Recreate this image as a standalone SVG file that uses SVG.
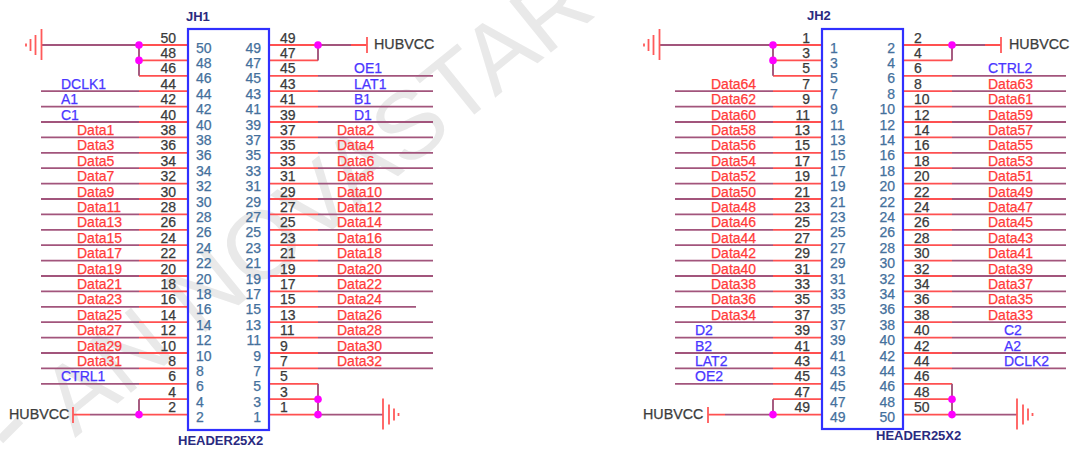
<svg xmlns="http://www.w3.org/2000/svg" width="1070" height="449" viewBox="0 0 1070 449">
<style>
text{font-family:"Liberation Sans",Arial,sans-serif;font-size:14px;stroke-width:.25}
.wm{font-size:96px;fill:#e9e9e9;stroke:none}
.box{fill:none;stroke:#3030ff;stroke-width:2.2}
.in{fill:#44709c;stroke:#44709c}
.out{fill:#3a3a3a;stroke:#3a3a3a}
.end{text-anchor:end}
.d{fill:#ff3b3b;stroke:#ff3b3b}
.b{fill:#4a36ff;stroke:#4a36ff}
.t{fill:#2a2a80;font-weight:bold;font-size:13px}
.v{fill:#3c3c3c;stroke:#3c3c3c;font-size:14.3px}
.w{fill:none;stroke-width:1.8}
.r{fill:none;stroke:#ff5050;stroke-width:1.8}
.p{fill:none;stroke:#a2557c;stroke-width:1.9}
.g{fill:none;stroke:#ff5a5a;stroke-width:1.8}
.j{fill:#ff00ff}
</style>
<defs>
<linearGradient id="a1" gradientUnits="userSpaceOnUse" x1="41" y1="0" x2="188" y2="0"><stop offset=".667" stop-color="#a2557c"/><stop offset=".667" stop-color="#ff5050"/></linearGradient>
<linearGradient id="a2" gradientUnits="userSpaceOnUse" x1="269" y1="0" x2="433" y2="0"><stop offset=".299" stop-color="#ff5050"/><stop offset=".299" stop-color="#a2557c"/></linearGradient>
<linearGradient id="a3" gradientUnits="userSpaceOnUse" x1="675" y1="0" x2="822" y2="0"><stop offset=".667" stop-color="#a2557c"/><stop offset=".667" stop-color="#ff5050"/></linearGradient>
<linearGradient id="a4" gradientUnits="userSpaceOnUse" x1="903" y1="0" x2="1066" y2="0"><stop offset=".301" stop-color="#ff5050"/><stop offset=".301" stop-color="#a2557c"/></linearGradient>
<g id="gnd"><path class="g" d="M0 -16V15M-6 -10V10M-11 -6V6M-15.5 -1.5V1.5"/></g>
</defs>

<text class="wm" transform="translate(75 438) rotate(-39)">AN NOVASTAR</text>
<path d="M0 440L20 420" fill="none" stroke="#e9e9e9" stroke-width="9"/>

<g id="connectors">
<g stroke="url(#a1)" class="w">
<path d="M41 91.2H188"/><path d="M41 106.6H188"/><path d="M41 122H188"/><path d="M41 137.4H188"/><path d="M41 152.8H188"/><path d="M41 168.2H188"/><path d="M41 183.6H188"/><path d="M41 199H188"/><path d="M41 214.4H188"/><path d="M41 229.8H188"/><path d="M41 245.2H188"/><path d="M41 260.6H188"/><path d="M41 276H188"/><path d="M41 291.4H188"/><path d="M41 306.8H188"/><path d="M41 322.2H188"/><path d="M41 337.6H188"/><path d="M41 353H188"/><path d="M41 368.4H188"/><path d="M41 383.8H188"/>
</g>
<g stroke="url(#a2)" class="w">
<path d="M269 75.8H433"/><path d="M269 91.2H433"/><path d="M269 106.6H433"/><path d="M269 122H433"/><path d="M269 137.4H433"/><path d="M269 152.8H433"/><path d="M269 168.2H433"/><path d="M269 183.6H433"/><path d="M269 199H433"/><path d="M269 214.4H433"/><path d="M269 229.8H433"/><path d="M269 245.2H433"/><path d="M269 260.6H433"/><path d="M269 276H433"/><path d="M269 291.4H433"/><path d="M269 306.8H416"/><path d="M269 322.2H433"/><path d="M269 337.6H433"/><path d="M269 353H433"/><path d="M269 368.4H433"/>
</g>
<g stroke="url(#a3)" class="w">
<path d="M675 91.2H822"/><path d="M675 106.6H822"/><path d="M675 122H822"/><path d="M675 137.4H822"/><path d="M675 152.8H822"/><path d="M675 168.2H822"/><path d="M675 183.6H822"/><path d="M675 199H822"/><path d="M675 214.4H822"/><path d="M675 229.8H822"/><path d="M675 245.2H822"/><path d="M675 260.6H822"/><path d="M675 276H822"/><path d="M675 291.4H822"/><path d="M675 306.8H822"/><path d="M675 322.2H822"/><path d="M675 337.6H822"/><path d="M675 353H822"/><path d="M675 368.4H822"/><path d="M675 383.8H822"/>
</g>
<g stroke="url(#a4)" class="w">
<path d="M903 75.8H1066"/><path d="M903 91.2H1066"/><path d="M903 106.6H1066"/><path d="M903 122H1066"/><path d="M903 137.4H1066"/><path d="M903 152.8H1066"/><path d="M903 168.2H1066"/><path d="M903 183.6H1066"/><path d="M903 199H1066"/><path d="M903 214.4H1066"/><path d="M903 229.8H1066"/><path d="M903 245.2H1066"/><path d="M903 260.6H1066"/><path d="M903 276H1066"/><path d="M903 291.4H1066"/><path d="M903 306.8H1066"/><path d="M903 322.2H1066"/><path d="M903 337.6H1066"/><path d="M903 353H1066"/><path d="M903 368.4H1066"/>
</g>
<path class="r" d="M139 45H188M139 60.4H188M139 75.8H188M269 45H318M269 60.4H318M351 45H367M139 399.2H188M139 414.6H188M73 414.6H90M269 383.8H318M269 399.2H318M269 414.6H318"/>
<path class="p" d="M41 45H139V75.8M318 45H351M318 45V60.4M90 414.6H139V399.2M318 383.8V414.6H383"/>
<path class="r" d="M773 45H822M773 60.4H822M773 75.8H822M903 45H952M903 60.4H952M985 45H1001M773 399.2H822M773 414.6H822M708 414.6H725M903 383.8H952M903 399.2H952M903 414.6H952"/>
<path class="p" d="M659 45H773V75.8M952 45H985M952 45V60.4M725 414.6H773V399.2M952 383.8V414.6H1017"/>
</g>

<g id="jh1">
<rect class="box" x="188" y="29" width="81" height="401"/>
<text class="t" x="186" y="21">JH1</text>
<text class="t" x="178" y="445">HEADER25X2</text>
<g class="in">
<text x="196" y="52.5">50</text><text x="196" y="67.9">48</text><text x="196" y="83.3">46</text><text x="196" y="98.7">44</text><text x="196" y="114.1">42</text><text x="196" y="129.5">40</text><text x="196" y="144.9">38</text><text x="196" y="160.3">36</text><text x="196" y="175.7">34</text><text x="196" y="191.1">32</text><text x="196" y="206.5">30</text><text x="196" y="221.9">28</text><text x="196" y="237.3">26</text><text x="196" y="252.7">24</text><text x="196" y="268.1">22</text><text x="196" y="283.5">20</text><text x="196" y="298.9">18</text><text x="196" y="314.3">16</text><text x="196" y="329.7">14</text><text x="196" y="345.1">12</text><text x="196" y="360.5">10</text><text x="196" y="375.9">8</text><text x="196" y="391.3">6</text><text x="196" y="406.7">4</text><text x="196" y="422.1">2</text>
</g>
<g class="in end">
<text x="261" y="52.5">49</text><text x="261" y="67.9">47</text><text x="261" y="83.3">45</text><text x="261" y="98.7">43</text><text x="261" y="114.1">41</text><text x="261" y="129.5">39</text><text x="261" y="144.9">37</text><text x="261" y="160.3">35</text><text x="261" y="175.7">33</text><text x="261" y="191.1">31</text><text x="261" y="206.5">29</text><text x="261" y="221.9">27</text><text x="261" y="237.3">25</text><text x="261" y="252.7">23</text><text x="261" y="268.1">21</text><text x="261" y="283.5">19</text><text x="261" y="298.9">17</text><text x="261" y="314.3">15</text><text x="261" y="329.7">13</text><text x="261" y="345.1">11</text><text x="261" y="360.5">9</text><text x="261" y="375.9">7</text><text x="261" y="391.3">5</text><text x="261" y="406.7">3</text><text x="261" y="422.1">1</text>
</g>
<g class="out end">
<text x="176" y="42.5">50</text><text x="176" y="57.9">48</text><text x="176" y="73.3">46</text><text x="176" y="88.7">44</text><text x="176" y="104.1">42</text><text x="176" y="119.5">40</text><text x="176" y="134.9">38</text><text x="176" y="150.3">36</text><text x="176" y="165.7">34</text><text x="176" y="181.1">32</text><text x="176" y="196.5">30</text><text x="176" y="211.9">28</text><text x="176" y="227.3">26</text><text x="176" y="242.7">24</text><text x="176" y="258.1">22</text><text x="176" y="273.5">20</text><text x="176" y="288.9">18</text><text x="176" y="304.3">16</text><text x="176" y="319.7">14</text><text x="176" y="335.1">12</text><text x="176" y="350.5">10</text><text x="176" y="365.9">8</text><text x="176" y="381.3">6</text><text x="176" y="396.7">4</text><text x="176" y="412.1">2</text>
</g>
<g class="out">
<text x="280" y="42.5">49</text><text x="280" y="57.9">47</text><text x="280" y="73.3">45</text><text x="280" y="88.7">43</text><text x="280" y="104.1">41</text><text x="280" y="119.5">39</text><text x="280" y="134.9">37</text><text x="280" y="150.3">35</text><text x="280" y="165.7">33</text><text x="280" y="181.1">31</text><text x="280" y="196.5">29</text><text x="280" y="211.9">27</text><text x="280" y="227.3">25</text><text x="280" y="242.7">23</text><text x="280" y="258.1">21</text><text x="280" y="273.5">19</text><text x="280" y="288.9">17</text><text x="280" y="304.3">15</text><text x="280" y="319.7">13</text><text x="280" y="335.1">11</text><text x="280" y="350.5">9</text><text x="280" y="365.9">7</text><text x="280" y="381.3">5</text><text x="280" y="396.7">3</text><text x="280" y="412.1">1</text>
</g>
</g>

<g id="jh1-nets">
<g class="b"><text x="61" y="88.7">DCLK1</text><text x="61" y="104.1">A1</text><text x="61" y="119.5">C1</text><text x="61" y="381.3">CTRL1</text><text x="354" y="73.3">OE1</text><text x="354" y="88.7">LAT1</text><text x="354" y="104.1">B1</text><text x="354" y="119.5">D1</text></g>
<g class="d">
<text x="77" y="134.9">Data1</text><text x="77" y="150.3">Data3</text><text x="77" y="165.7">Data5</text><text x="77" y="181.1">Data7</text><text x="77" y="196.5">Data9</text><text x="77" y="211.9">Data11</text><text x="77" y="227.3">Data13</text><text x="77" y="242.7">Data15</text><text x="77" y="258.1">Data17</text><text x="77" y="273.5">Data19</text><text x="77" y="288.9">Data21</text><text x="77" y="304.3">Data23</text><text x="77" y="319.7">Data25</text><text x="77" y="335.1">Data27</text><text x="77" y="350.5">Data29</text><text x="77" y="365.9">Data31</text>
<text x="337" y="134.9">Data2</text><text x="337" y="150.3">Data4</text><text x="337" y="165.7">Data6</text><text x="337" y="181.1">Data8</text><text x="337" y="196.5">Data10</text><text x="337" y="211.9">Data12</text><text x="337" y="227.3">Data14</text><text x="337" y="242.7">Data16</text><text x="337" y="258.1">Data18</text><text x="337" y="273.5">Data20</text><text x="337" y="288.9">Data22</text><text x="337" y="304.3">Data24</text><text x="337" y="319.7">Data26</text><text x="337" y="335.1">Data28</text><text x="337" y="350.5">Data30</text><text x="337" y="365.9">Data32</text>
</g>
</g>

<g id="jh2">
<rect class="box" x="822" y="29" width="81" height="400"/>
<text class="t" x="807" y="20">JH2</text>
<text class="t" x="876" y="440">HEADER25X2</text>
<g class="in">
<text x="830" y="52.5">1</text><text x="830" y="67.9">3</text><text x="830" y="83.3">5</text><text x="830" y="98.7">7</text><text x="830" y="114.1">9</text><text x="830" y="129.5">11</text><text x="830" y="144.9">13</text><text x="830" y="160.3">15</text><text x="830" y="175.7">17</text><text x="830" y="191.1">19</text><text x="830" y="206.5">21</text><text x="830" y="221.9">23</text><text x="830" y="237.3">25</text><text x="830" y="252.7">27</text><text x="830" y="268.1">29</text><text x="830" y="283.5">31</text><text x="830" y="298.9">33</text><text x="830" y="314.3">35</text><text x="830" y="329.7">37</text><text x="830" y="345.1">39</text><text x="830" y="360.5">41</text><text x="830" y="375.9">43</text><text x="830" y="391.3">45</text><text x="830" y="406.7">47</text><text x="830" y="422.1">49</text>
</g>
<g class="in end">
<text x="895" y="52.5">2</text><text x="895" y="67.9">4</text><text x="895" y="83.3">6</text><text x="895" y="98.7">8</text><text x="895" y="114.1">10</text><text x="895" y="129.5">12</text><text x="895" y="144.9">14</text><text x="895" y="160.3">16</text><text x="895" y="175.7">18</text><text x="895" y="191.1">20</text><text x="895" y="206.5">22</text><text x="895" y="221.9">24</text><text x="895" y="237.3">26</text><text x="895" y="252.7">28</text><text x="895" y="268.1">30</text><text x="895" y="283.5">32</text><text x="895" y="298.9">34</text><text x="895" y="314.3">36</text><text x="895" y="329.7">38</text><text x="895" y="345.1">40</text><text x="895" y="360.5">42</text><text x="895" y="375.9">44</text><text x="895" y="391.3">46</text><text x="895" y="406.7">48</text><text x="895" y="422.1">50</text>
</g>
<g class="out end">
<text x="810" y="42.5">1</text><text x="810" y="57.9">3</text><text x="810" y="73.3">5</text><text x="810" y="88.7">7</text><text x="810" y="104.1">9</text><text x="810" y="119.5">11</text><text x="810" y="134.9">13</text><text x="810" y="150.3">15</text><text x="810" y="165.7">17</text><text x="810" y="181.1">19</text><text x="810" y="196.5">21</text><text x="810" y="211.9">23</text><text x="810" y="227.3">25</text><text x="810" y="242.7">27</text><text x="810" y="258.1">29</text><text x="810" y="273.5">31</text><text x="810" y="288.9">33</text><text x="810" y="304.3">35</text><text x="810" y="319.7">37</text><text x="810" y="335.1">39</text><text x="810" y="350.5">41</text><text x="810" y="365.9">43</text><text x="810" y="381.3">45</text><text x="810" y="396.7">47</text><text x="810" y="412.1">49</text>
</g>
<g class="out">
<text x="914" y="42.5">2</text><text x="914" y="57.9">4</text><text x="914" y="73.3">6</text><text x="914" y="88.7">8</text><text x="914" y="104.1">10</text><text x="914" y="119.5">12</text><text x="914" y="134.9">14</text><text x="914" y="150.3">16</text><text x="914" y="165.7">18</text><text x="914" y="181.1">20</text><text x="914" y="196.5">22</text><text x="914" y="211.9">24</text><text x="914" y="227.3">26</text><text x="914" y="242.7">28</text><text x="914" y="258.1">30</text><text x="914" y="273.5">32</text><text x="914" y="288.9">34</text><text x="914" y="304.3">36</text><text x="914" y="319.7">38</text><text x="914" y="335.1">40</text><text x="914" y="350.5">42</text><text x="914" y="365.9">44</text><text x="914" y="381.3">46</text><text x="914" y="396.7">48</text><text x="914" y="412.1">50</text>
</g>
</g>

<g id="jh2-nets">
<g class="b"><text x="988" y="73.3">CTRL2</text><text x="1004" y="335.1">C2</text><text x="1004" y="350.5">A2</text><text x="1004" y="365.9">DCLK2</text><text x="695" y="335.1">D2</text><text x="695" y="350.5">B2</text><text x="695" y="365.9">LAT2</text><text x="695" y="381.3">OE2</text></g>
<g class="d">
<text x="711" y="88.7">Data64</text><text x="711" y="104.1">Data62</text><text x="711" y="119.5">Data60</text><text x="711" y="134.9">Data58</text><text x="711" y="150.3">Data56</text><text x="711" y="165.7">Data54</text><text x="711" y="181.1">Data52</text><text x="711" y="196.5">Data50</text><text x="711" y="211.9">Data48</text><text x="711" y="227.3">Data46</text><text x="711" y="242.7">Data44</text><text x="711" y="258.1">Data42</text><text x="711" y="273.5">Data40</text><text x="711" y="288.9">Data38</text><text x="711" y="304.3">Data36</text><text x="711" y="319.7">Data34</text>
<text x="988" y="88.7">Data63</text><text x="988" y="104.1">Data61</text><text x="988" y="119.5">Data59</text><text x="988" y="134.9">Data57</text><text x="988" y="150.3">Data55</text><text x="988" y="165.7">Data53</text><text x="988" y="181.1">Data51</text><text x="988" y="196.5">Data49</text><text x="988" y="211.9">Data47</text><text x="988" y="227.3">Data45</text><text x="988" y="242.7">Data43</text><text x="988" y="258.1">Data41</text><text x="988" y="273.5">Data39</text><text x="988" y="288.9">Data37</text><text x="988" y="304.3">Data35</text><text x="988" y="319.7">Data33</text>
</g>
</g>

<g id="power">
<use href="#gnd" transform="translate(41.5 45)"/>
<use href="#gnd" transform="translate(383 414.6) scale(-1 1)"/>
<use href="#gnd" transform="translate(659.5 45)"/>
<use href="#gnd" transform="translate(1017 414.6) scale(-1 1)"/>
<path class="g" d="M367 37V53M73 407V423M1001 37V53M708 407V423"/>
<text class="v" x="374" y="48.5">HUBVCC</text>
<text class="v" x="9" y="418.5">HUBVCC</text>
<text class="v" x="1009" y="48.5">HUBVCC</text>
<text class="v" x="643" y="418.5">HUBVCC</text>
</g>

<g id="junctions" class="j">
<circle cx="139" cy="45" r="3.8"/><circle cx="139" cy="60.4" r="3.8"/><circle cx="318" cy="45" r="3.8"/><circle cx="139" cy="414.6" r="3.8"/><circle cx="318" cy="399.2" r="3.8"/><circle cx="318" cy="414.6" r="3.8"/>
<circle cx="773" cy="45" r="3.8"/><circle cx="773" cy="60.4" r="3.8"/><circle cx="952" cy="45" r="3.8"/><circle cx="773" cy="414.6" r="3.8"/><circle cx="952" cy="399.2" r="3.8"/><circle cx="952" cy="414.6" r="3.8"/>
</g>
</svg>
